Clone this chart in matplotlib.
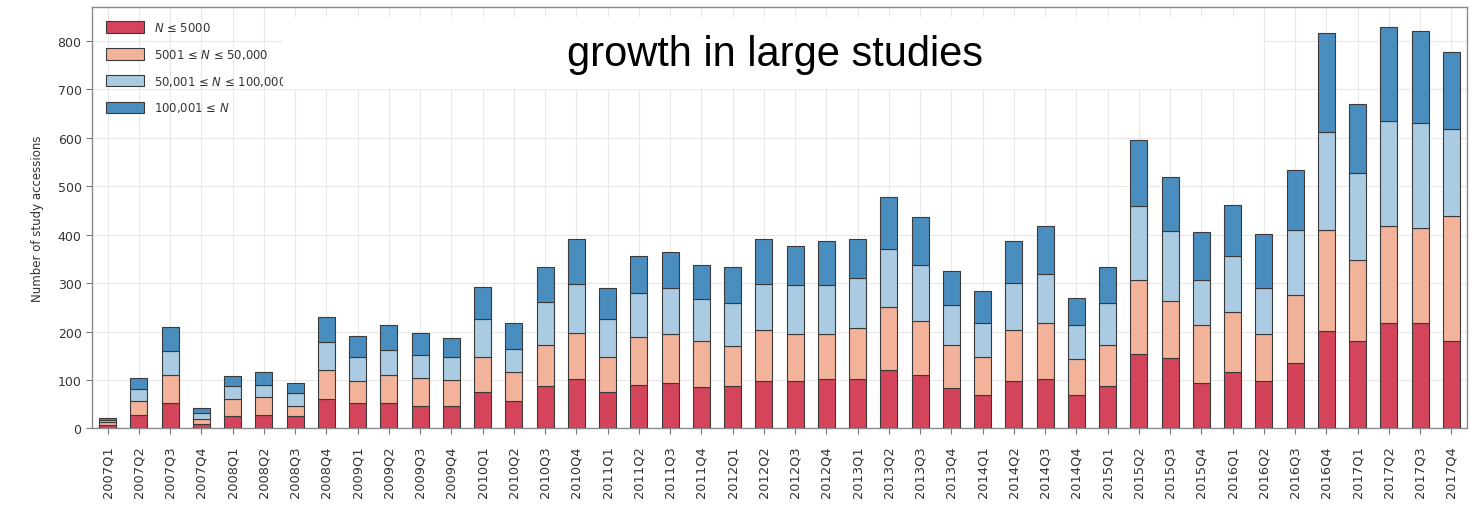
import numpy as np
import matplotlib
matplotlib.use("Agg")
import matplotlib.pyplot as plt
from matplotlib.patches import Rectangle

# quarterly study accessions, split by sample size
quarters = [f"{y}Q{q}" for y in range(2007, 2018) for q in range(1, 5)]

small = [8, 28, 52, 9, 25, 28, 25, 61, 52, 52, 46, 46,
         75, 57, 88, 102, 76, 90, 93, 85, 88, 99, 99, 102,
         102, 121, 111, 83, 69, 97, 103, 70, 88, 153, 145, 94,
         116, 99, 136, 202, 181, 217, 217, 181]
medium = [5, 28, 58, 11, 36, 36, 22, 60, 45, 58, 59, 55,
          73, 59, 85, 96, 72, 98, 102, 96, 83, 104, 96, 94,
          105, 129, 111, 89, 79, 106, 114, 73, 85, 153, 118, 119,
          125, 96, 139, 208, 167, 200, 196, 258]
large = [4, 25, 50, 11, 26, 26, 26, 58, 50, 52, 47, 47,
         78, 49, 89, 101, 79, 91, 96, 86, 88, 96, 101, 100,
         103, 121, 116, 83, 70, 97, 101, 70, 87, 153, 145, 94,
         115, 96, 134, 201, 180, 218, 217, 179]
huge = [5, 24, 50, 11, 21, 27, 21, 52, 44, 52, 45, 39,
        67, 52, 72, 92, 64, 77, 74, 70, 75, 92, 80, 90,
        81, 106, 99, 70, 65, 86, 100, 56, 74, 136, 111, 99,
        105, 110, 125, 206, 141, 194, 190, 160]

labels = [r"$N$ ≤ 5000", r"5001 ≤ $N$ ≤ 50,000",
          r"50,001 ≤ $N$ ≤ 100,000", r"100,001 ≤ $N$"]
colors = ["#d4445b", "#f3b39b", "#aacbe2", "#4a8dbf"]

fig = plt.figure(figsize=(14.79, 5.06), dpi=100)
ax = fig.add_axes([0.0622, 0.1512, 0.9297, 0.833])

x = np.arange(len(quarters))
bottom = np.zeros(len(quarters))
for vals, lab, col in zip([small, medium, large, huge], labels, colors):
    ax.bar(x, vals, width=0.55, bottom=bottom, color=col, edgecolor="#3a3a3a",
           linewidth=0.8, label=lab, zorder=3)
    bottom += np.array(vals)

ax.set_xlim(-0.5, len(quarters) - 0.5)
ax.set_ylim(0, 870)
ax.set_yticks(range(0, 900, 100))
ax.set_xticks(x)
ax.set_xticklabels(quarters, rotation=90, fontsize=9.4, color="#333333")
ax.tick_params(axis="y", labelsize=9, colors="#333333")
ax.tick_params(axis="x", pad=8)
ax.tick_params(length=4, color="#777777")
ax.set_ylabel("Number of study accessions", fontsize=8.5, color="#333333", labelpad=10)
ax.grid(True, color="#e8e8e8", linewidth=0.8, zorder=0)
ax.set_axisbelow(True)
for s in ax.spines.values():
    s.set_color("#8a8a8a")
    s.set_linewidth(1.0)

leg = ax.legend(loc="upper left", frameon=False, fontsize=8.4, handlelength=3.3,
                handleheight=1.15, labelspacing=1.1, borderaxespad=0.8,
                handletextpad=0.8)
for t in leg.get_texts():
    t.set_color("#333333")

# white banner with the headline over the top of the plot
fig.add_artist(Rectangle((0.1913, 0.8221), 0.6626, 0.1423, transform=fig.transFigure,
                         facecolor="white", edgecolor="none", zorder=10))
fig.text(0.524, 0.891, "growth in large studies", fontsize=30, family="Liberation Sans",
         ha="center", va="center", zorder=11)

fig.savefig("out.png", dpi=100)
